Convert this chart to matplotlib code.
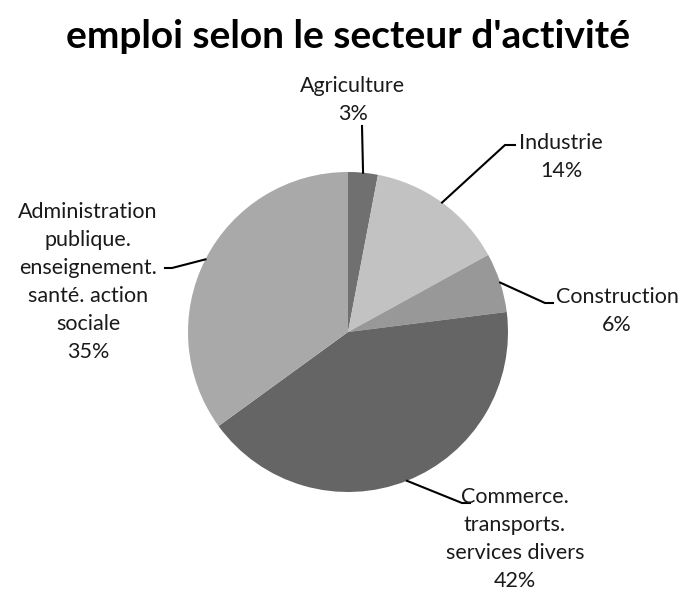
import numpy as np
from matplotlib import pyplot as plt

labels = ['Agriculture', 'Industrie', 'Construction',
          'Commerce.\ntransports.\nservices divers',
          'Administration\npublique.\nenseignement.\nsanté. action\nsociale']
shares = [3, 14, 6, 42, 35]
colors = ['#707070', '#c2c2c2', '#989898', '#656565', '#a9a9a9']

H = 593
center = (348, H - 332)
radius = 160

# leader line elbow, line end, text position (pixels from top-left)
layout = [
    ((362, 126), (362, 126), (353, 100), 'center'),
    ((505, 145), (515, 145), (561, 157), 'center'),
    ((545, 303), (553, 303), (617, 311), 'center'),
    ((462, 503), (470, 503), (515, 539), 'center'),
    ((172, 268), (165, 268), (88, 282), 'center'),
]


def main():
    plt.rcParams['font.family'] = ['Lato', 'DejaVu Sans']
    fig = plt.figure(figsize=(6.83, 5.93), dpi=100)
    ax = fig.add_axes([0, 0, 1, 1])

    ax.pie(shares, colors=colors, startangle=90, counterclock=False,
           center=center, radius=radius, wedgeprops=dict(linewidth=0))
    ax.set_xlim(0, 683)
    ax.set_ylim(0, H)
    ax.set_aspect('equal')
    ax.axis('off')

    total = sum(shares)
    start = 90.0
    for share, label, (elbow, end, txt, ha) in zip(shares, labels, layout):
        span = 360.0 * share / total
        mid = np.deg2rad(start - span / 2)
        start -= span
        ax0 = center[0] + radius * np.cos(mid)
        ay0 = center[1] + radius * np.sin(mid)
        ax.plot([ax0, elbow[0], end[0]], [ay0, H - elbow[1], H - end[1]],
                color='black', lw=1.5, solid_joinstyle='miter')
        ax.text(txt[0], H - txt[1], f'{label}\n{share}%', ha=ha, va='center',
                fontsize=15.5, color='#1a1a1a', linespacing=1.49)

    ax.text(348, H - 36, "emploi selon le secteur d'activité", ha='center',
            va='center', fontsize=28, fontweight='bold', color='black')

    fig.savefig('out.png', dpi=100)


if __name__ == '__main__':
    main()
